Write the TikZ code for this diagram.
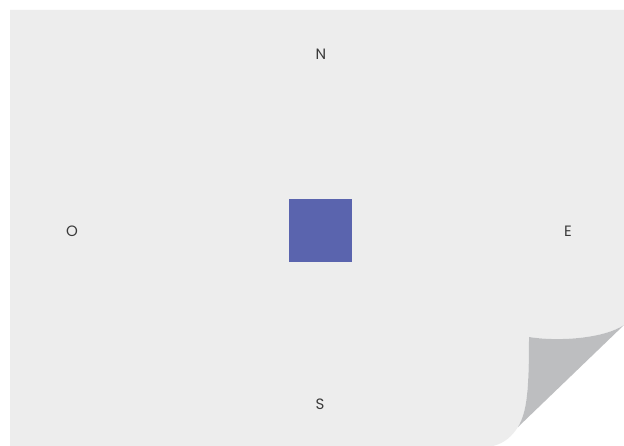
\documentclass[tikz,border=0pt]{standalone}
\usepackage{fontspec}
\setmainfont{Poppins}
\definecolor{pagebg}{HTML}{EDEDED}
\definecolor{curl}{HTML}{BDBEC0}
\definecolor{sq}{HTML}{5A64AE}
\definecolor{txt}{HTML}{3A3A3A}
\begin{document}
\begin{tikzpicture}[x=1pt,y=-1pt,
  dir/.style={text=txt,font=\fontsize{15}{15}\selectfont,inner sep=0pt}]
\useasboundingbox (0,0) rectangle (624,446);
\fill[white] (0,0) rectangle (624,446);
\fill[pagebg] (10,10) -- (624,10) -- (624,325)
  .. controls (605,338) and (560,342) .. (529,337)
  .. controls (529,390) and (527,412) .. (518,427)
  .. controls (512,436) and (505,443) .. (493,446)
  -- (10,446) -- cycle;
\fill[curl] (624,325)
  .. controls (605,338) and (560,342) .. (529,337)
  .. controls (529,390) and (527,412) .. (518,427) -- cycle;
\node[fill=sq,minimum size=63pt,inner sep=0pt] (box) at (320.5,230.5) {};
\node[dir] (n) at (321,54) {N};
\node[dir] (o) at (72,231) {O};
\node[dir] (e) at (568,231) {E};
\node[dir] (s) at (320,404) {S};
\end{tikzpicture}
\end{document}
